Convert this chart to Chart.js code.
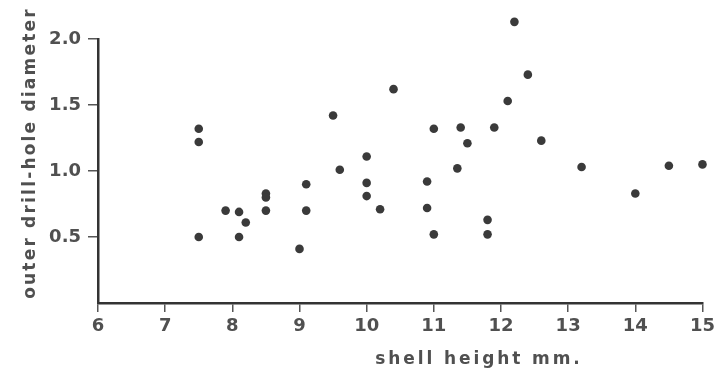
<!DOCTYPE html>
<html>
<head>
<meta charset="utf-8">
<script src="https://cdn.jsdelivr.net/npm/chart.js@4.4.1/dist/chart.umd.min.js"></script>
<style>
  html, body { margin: 0; padding: 0; background: #fff; }
</style>
</head>
<body>
<canvas id="drillChart" width="719" height="376"></canvas>
<script>
// shell height (mm) and outer drill-hole diameter
var shellHeight = [7.5, 7.5, 7.5, 7.9, 8.1, 8.2, 8.1, 8.5, 8.5, 8.5,
                   9.0, 9.1, 9.1, 9.5, 9.6, 10.0, 10.0, 10.0, 10.2, 10.4,
                   10.9, 10.9, 11.0, 11.0, 11.35, 11.4, 11.5, 11.8, 11.8, 11.9,
                   12.1, 12.2, 12.4, 12.6, 13.2, 14.0, 14.5, 15.0];
var holeDiameter = [1.32, 1.22, 0.50, 0.70, 0.69, 0.61, 0.50, 0.83, 0.80, 0.70,
                    0.41, 0.90, 0.70, 1.42, 1.01, 1.11, 0.91, 0.81, 0.71, 1.62,
                    0.92, 0.72, 0.52, 1.32, 1.02, 1.33, 1.21, 0.63, 0.52, 1.33,
                    1.53, 2.13, 1.73, 1.23, 1.03, 0.83, 1.04, 1.05];

var xTitle = "shell height mm.";
var yTitle = "outer drill-hole diameter";

var points = shellHeight.map(function (h, i) {
  return { x: h, y: holeDiameter[i] };
});

var inkColor = "#3a3a3a";
var labelColor = "#505050";

// chart.js skips points outside the chart area, so redraw those
// (the 2.13 value sits above the top of the axis)
var outsidePoints = {
  id: "outsidePoints",
  afterDatasetsDraw: function (chart) {
    var area = chart.chartArea;
    var full = { left: 0, top: 0, right: chart.width, bottom: chart.height };
    chart.getDatasetMeta(0).data.forEach(function (pt) {
      if (pt.y < area.top || pt.y > area.bottom || pt.x < area.left || pt.x > area.right) {
        pt.draw(chart.ctx, full);
      }
    });
  }
};

// axis titles are drawn by hand, the x title sits right of centre in the original
var axisTitles = {
  id: "axisTitles",
  afterDraw: function (chart) {
    var ctx = chart.ctx;
    ctx.save();
    ctx.fillStyle = labelColor;
    ctx.font = "bold 17px 'DejaVu Sans'";
    ctx.letterSpacing = "2.9px";
    ctx.textAlign = "center";
    ctx.textBaseline = "alphabetic";
    ctx.fillText(xTitle, 479, 364);

    ctx.translate(35, 153);
    ctx.rotate(-Math.PI / 2);
    ctx.letterSpacing = "2.2px";
    ctx.fillText(yTitle, 0, 0);
    ctx.restore();
  }
};

var ctx = document.getElementById("drillChart").getContext("2d");
var drillChart = new Chart(ctx, {
  type: "scatter",
  data: {
    datasets: [{
      data: points,
      backgroundColor: inkColor,
      borderColor: inkColor,
      borderWidth: 0,
      pointRadius: 4.3,
      clip: false
    }]
  },
  options: {
    responsive: false,
    animation: false,
    layout: { padding: { top: 39, right: 16, left: 0, bottom: 0 } },
    plugins: {
      legend: { display: false },
      tooltip: { enabled: false }
    },
    scales: {
      x: {
        type: "linear",
        min: 6,
        max: 15,
        afterFit: function (scale) { scale.height = 73; },
        border: { display: true, color: "#333", width: 2.5 },
        grid: {
          drawOnChartArea: false,
          drawTicks: true,
          tickLength: 9,
          color: "#555",
          lineWidth: 1.5
        },
        ticks: {
          stepSize: 1,
          padding: 4,
          color: labelColor,
          font: { family: "'DejaVu Sans'", size: 18, weight: "bold" }
        }
      },
      y: {
        min: 0,
        max: 2,
        afterFit: function (scale) { scale.width = 98; },
        border: { display: true, color: "#333", width: 2.5 },
        grid: {
          drawOnChartArea: false,
          drawTicks: true,
          tickLength: 10,
          lineWidth: 1.5,
          color: function (c) { return c.tick && c.tick.value === 0 ? "rgba(0,0,0,0)" : "#555"; }
        },
        ticks: {
          stepSize: 0.5,
          padding: 7,
          color: labelColor,
          font: { family: "'DejaVu Sans'", size: 18, weight: "bold" },
          callback: function (v) { return v === 0 ? "" : v.toFixed(1); }
        }
      }
    }
  },
  plugins: [outsidePoints, axisTitles]
});
</script>
</body>
</html>
